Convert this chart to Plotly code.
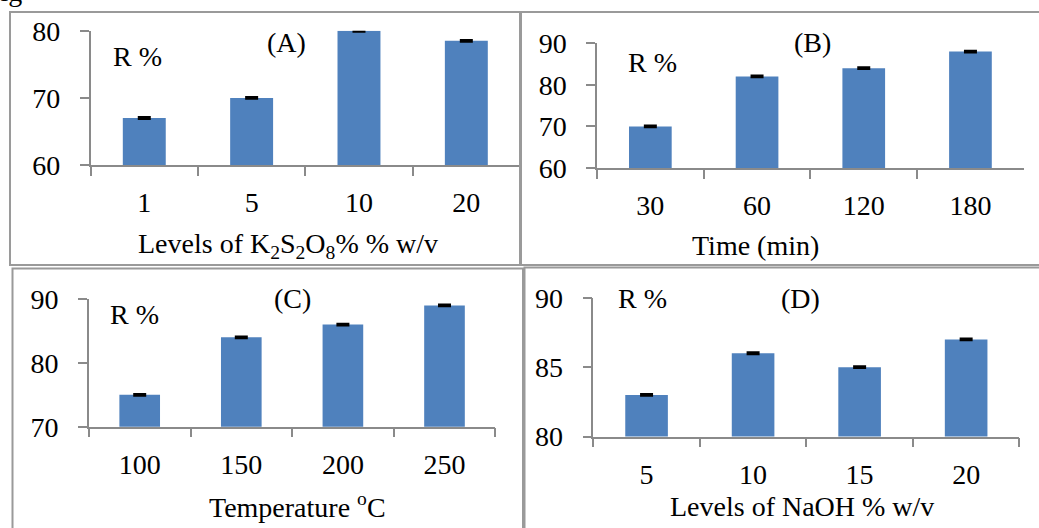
import plotly.graph_objects as go

W, H = 1039, 528

# ---------------- data ----------------
cats_a = ["1", "5", "10", "20"]
r_a = [67, 70, 80, 78.5]
cats_b = ["30", "60", "120", "180"]
r_b = [70, 82, 84, 88]
cats_c = ["100", "150", "200", "250"]
r_c = [75, 84, 86, 89]
cats_d = ["5", "10", "15", "20"]
r_d = [83, 86, 85, 87]
err_a = [0.1, 0.1, 0.1, 0.1]
err_b = [0.15, 0.15, 0.15, 0.15]
err_c = [0.1, 0.1, 0.1, 0.1]
err_d = [0.05, 0.05, 0.05, 0.05]

yt_a = [60, 70, 80]
yt_b = [60, 70, 80, 90]
yt_c = [70, 80, 90]
yt_d = [80, 85, 90]

title_a = "Levels of K<sub>2</sub>S<sub>2</sub>O<sub>8</sub>% % w/v"
title_b = "Time (min)"
title_c = "Temperature <sup>o</sup>C"
title_d = "Levels of NaOH % w/v"
labels = ["(A)", "(B)", "(C)", "(D)"]
r_label = "R %"

# ---------------- helpers ----------------
FONT = "Liberation Serif"
FS = 28
GRAY = "#8a8a8a"
BLUE = "#4F81BD"


def px(x):
    return x / W


def py(y):
    return 1 - y / H


panels = [
    dict(c=cats_a, v=r_a, e=err_a, yt=yt_a, x0=90.6, x1=520.0, yt_px=30.8, yb_px=165.0,
         title=title_a, tx=288, ty=245, lx=286, ly=43, rx=137, ry=57),
    dict(c=cats_b, v=r_b, e=err_b, yt=yt_b, x0=597.0, x1=1023.8, yt_px=43.2, yb_px=168.0,
         title=title_b, tx=755, ty=245, lx=812, ly=43, rx=652, ry=62),
    dict(c=cats_c, v=r_c, e=err_c, yt=yt_c, x0=88.9, x1=495.3, yt_px=299.0, yb_px=426.7,
         title=title_c, tx=297, ty=505, lx=292, ly=298, rx=134, ry=314),
    dict(c=cats_d, v=r_d, e=err_d, yt=yt_d, x0=593.3, x1=1019.4, yt_px=297.8, yb_px=436.5,
         title=title_d, tx=802, ty=506, lx=800, ly=298, rx=642, ry=298),
]

fig = go.Figure()
layout = dict(
    width=W, height=H,
    margin=dict(l=0, r=0, t=0, b=0, autoexpand=False),
    paper_bgcolor="white", plot_bgcolor="white",
    showlegend=False,
    bargap=0.6,
    font=dict(family=FONT, size=FS, color="black"),
)
annotations = []

for i, p in enumerate(panels):
    n = "" if i == 0 else str(i + 1)
    xa = "x" + n
    ya = "y" + n
    fig.add_trace(go.Bar(
        x=p["c"], y=p["v"], xaxis=xa, yaxis=ya,
        marker=dict(color=BLUE, line=dict(width=0)),
        error_y=dict(type="data", array=p["e"], color="black", thickness=2.5, width=6.5),
        hoverinfo="x+y",
    ))
    layout["xaxis" + n] = dict(
        domain=[px(p["x0"]), px(p["x1"])],
        anchor=ya, type="category", range=[-0.5, 3.5],
        tickson="boundaries", ticks="outside", ticklen=9, tickcolor=GRAY, tickwidth=1.5,
        showline=True, linecolor=GRAY, linewidth=1.5, showgrid=False, zeroline=False,
        tickfont=dict(family=FONT, size=FS, color="black"),
        ticklabelstandoff=12,
    )
    layout["yaxis" + n] = dict(
        domain=[py(p["yb_px"]), py(p["yt_px"])],
        anchor=xa, range=[p["yt"][0], p["yt"][-1]],
        tickvals=p["yt"], ticks="outside", ticklen=9, tickcolor=GRAY, tickwidth=1.5,
        showline=True, linecolor=GRAY, linewidth=1.5, showgrid=False, zeroline=False,
        tickfont=dict(family=FONT, size=FS, color="black"),
        ticklabelstandoff=14,
    )
    annotations.append(dict(xref="paper", yref="paper", x=px(p["tx"]), y=py(p["ty"]),
                            text=p["title"], showarrow=False, xanchor="center", yanchor="middle",
                            font=dict(family=FONT, size=FS, color="black")))
    annotations.append(dict(xref="paper", yref="paper", x=px(p["lx"]), y=py(p["ly"]),
                            text=labels[i], showarrow=False, xanchor="center", yanchor="middle",
                            font=dict(family=FONT, size=FS, color="black")))
    annotations.append(dict(xref="paper", yref="paper", x=px(p["rx"]), y=py(p["ry"]),
                            text=r_label, showarrow=False, xanchor="center", yanchor="middle",
                            font=dict(family=FONT, size=FS, color="black")))

# cropped caption remnant at the top-left corner
annotations.append(dict(xref="paper", yref="paper", x=px(24), y=py(9),
                        text="Fig", showarrow=False, xanchor="right", yanchor="bottom",
                        font=dict(family=FONT, size=FS, color="black")))

frames = [
    (10, 12, 520, 265),
    (521, 12, 1060, 265),
    (12.5, 268.5, 523, 560),
    (524.5, 267.5, 1060, 560),
]
shapes = []
for (x0, y0, x1, y1) in frames:
    shapes.append(dict(type="rect", xref="paper", yref="paper",
                       x0=px(x0), x1=px(x1), y0=py(y0), y1=py(y1),
                       line=dict(color="#9a9a9a", width=2), fillcolor="rgba(0,0,0,0)",
                       layer="above"))

layout["annotations"] = annotations
layout["shapes"] = shapes
fig.update_layout(**layout)

fig.write_html("out.html",
               config={"displayModeBar": False},
               post_script="document.body.style.margin='0';document.body.style.overflow='hidden';")
